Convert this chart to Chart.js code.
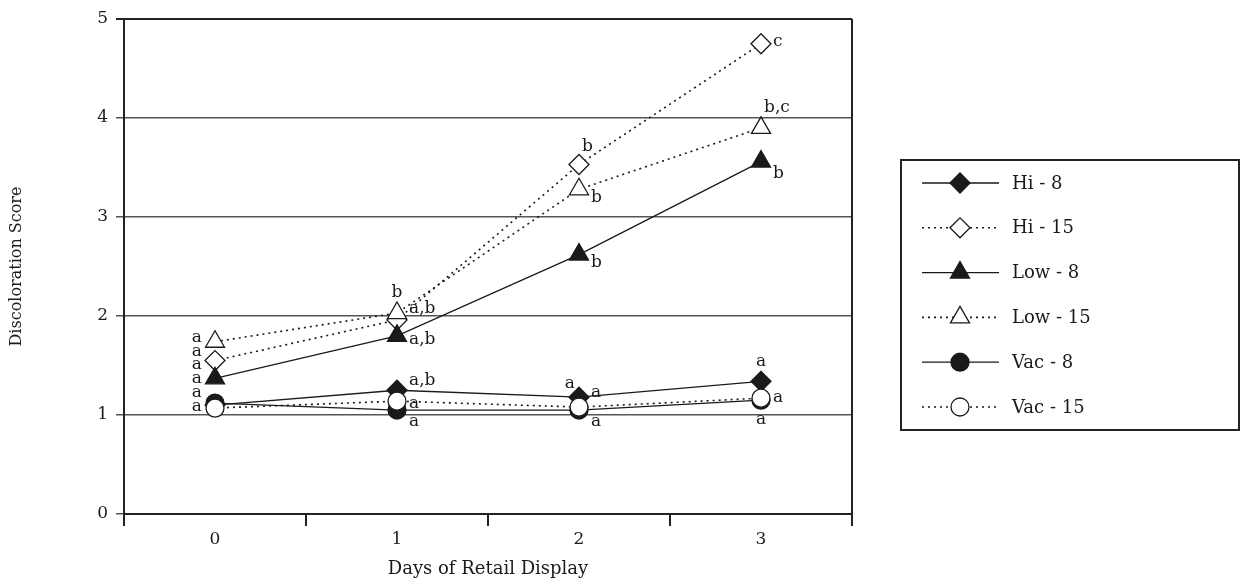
<!DOCTYPE html>
<html>
<head>
<meta charset="utf-8">
<script src="https://cdn.jsdelivr.net/npm/chart.js@4"></script>
<style>
  html, body { margin: 0; padding: 0; background: #fff; }
  #wrap { width: 1240px; height: 585px; }
</style>
</head>
<body>
<div id="wrap"><canvas id="disc-chart" width="1240" height="585"></canvas></div>
<script>
var days = ['0', '1', '2', '3'];
var seriesNames = ['Hi - 8', 'Hi - 15', 'Low - 8', 'Low - 15', 'Vac - 8', 'Vac - 15'];
var hi8 = [1.10, 1.25, 1.18, 1.34];
var hi15 = [1.55, 1.96, 3.53, 4.75];
var low8 = [1.37, 1.80, 2.62, 3.56];
var low15 = [1.74, 2.03, 3.28, 3.90];
var vac8 = [1.12, 1.05, 1.05, 1.15];
var vac15 = [1.07, 1.14, 1.08, 1.17];
var yTicks = [0, 1, 2, 3, 4, 5];

// significance letters: [day index, score where the letter sits, text, side]
var letterNotes = [
  [0, 1.78, 'a', 'L'], [0, 1.64, 'a', 'L'], [0, 1.51, 'a', 'L'],
  [0, 1.37, 'a', 'L'], [0, 1.23, 'a', 'L'], [0, 1.09, 'a', 'L'],
  [1, 2.24, 'b', 'C'], [1, 2.07, 'a,b', 'R'], [1, 1.76, 'a,b', 'R'],
  [1, 1.35, 'a,b', 'R'], [1, 1.12, 'a', 'R'], [1, 0.93, 'a', 'R'],
  [2, 3.71, 'b', 'NR'], [2, 3.20, 'b', 'R'], [2, 2.54, 'b', 'R'],
  [2, 1.32, 'a', 'NL'], [2, 1.23, 'a', 'R'], [2, 0.93, 'a', 'R'],
  [3, 4.77, 'c', 'R'], [3, 4.11, 'b,c', 'NR'], [3, 3.44, 'b', 'R'],
  [3, 1.54, 'a', 'C'], [3, 1.18, 'a', 'R'], [3, 0.95, 'a', 'C']
];

var serif = "'DejaVu Serif', 'Liberation Serif', serif";
var ink = '#1a1a1a';

function makeSet(i, values, style, filled, dotted, radius) {
  return {
    label: seriesNames[i],
    data: values,
    borderColor: ink,
    borderWidth: dotted ? 1.6 : 1.3,
    borderDash: dotted ? [2, 4] : [],
    pointStyle: style,
    pointRadius: radius,
    pointBorderWidth: 1.3,
    pointBorderColor: ink,
    pointBackgroundColor: filled ? ink : '#fff',
    fill: false,
    tension: 0,
    order: 5 - i
  };
}

var sets = [
  makeSet(0, hi8, 'rectRot', true, false, 10),
  makeSet(1, hi15, 'rectRot', false, true, 10),
  makeSet(2, low8, 'triangle', true, false, 11),
  makeSet(3, low15, 'triangle', false, true, 11),
  makeSet(4, vac8, 'circle', true, false, 9),
  makeSet(5, vac15, 'circle', false, true, 9)
];

var sidePlugin = {
  id: 'extras',
  afterDraw: function (chart) {
    var ctx = chart.ctx;
    var xs = chart.scales.x, ys = chart.scales.y;
    var area = chart.chartArea;
    ctx.save();
    // right frame edge
    ctx.strokeStyle = '#222';
    ctx.lineWidth = 2;
    ctx.beginPath();
    ctx.moveTo(area.right, area.top);
    ctx.lineTo(area.right, area.bottom);
    ctx.stroke();

    // letters
    ctx.fillStyle = ink;
    ctx.font = '17px ' + serif;
    ctx.textBaseline = 'middle';
    letterNotes.forEach(function (n) {
      var px = xs.getPixelForValue(n[0]);
      var py = ys.getPixelForValue(n[1]);
      var side = n[3];
      if (side === 'L') { ctx.textAlign = 'right'; px -= 13; }
      else if (side === 'NL') { ctx.textAlign = 'right'; px -= 4; }
      else if (side === 'R') { ctx.textAlign = 'left'; px += 12; }
      else if (side === 'NR') { ctx.textAlign = 'left'; px += 3; }
      else { ctx.textAlign = 'center'; }
      ctx.fillText(n[2], px, py);
    });

    // legend box
    var bx = 901, by = 160, bw = 338, bh = 270;
    ctx.strokeStyle = '#222';
    ctx.lineWidth = 2;
    ctx.strokeRect(bx, by, bw, bh);
    ctx.font = '18px ' + serif;
    ctx.textAlign = 'left';
    chart.data.datasets.forEach(function (ds, i) {
      var ry = 183 + i * 44.8;
      ctx.save();
      ctx.strokeStyle = ds.borderColor;
      ctx.lineWidth = ds.borderWidth;
      ctx.setLineDash(ds.borderDash);
      ctx.beginPath();
      ctx.moveTo(922, ry);
      ctx.lineTo(999, ry);
      ctx.stroke();
      ctx.restore();
      ctx.save();
      ctx.fillStyle = ds.pointBackgroundColor;
      ctx.strokeStyle = ds.pointBorderColor;
      ctx.lineWidth = ds.pointBorderWidth;
      Chart.helpers.drawPoint(ctx, {
        pointStyle: ds.pointStyle,
        radius: ds.pointRadius,
        rotation: 0,
        borderWidth: ds.pointBorderWidth
      }, 960, ry);
      ctx.restore();
      ctx.fillStyle = ink;
      ctx.fillText(ds.label, 1012, ry + 1);
    });
    ctx.restore();
  }
};

var discChart = new Chart(document.getElementById('disc-chart'), {
  type: 'line',
  data: {
    labels: days,
    datasets: sets
  },
  options: {
    responsive: false,
    animation: false,
    layout: { padding: { left: 0, top: 19, right: 388, bottom: 0 } },
    plugins: {
      legend: { display: false },
      tooltip: { enabled: false }
    },
    scales: {
      x: {
        type: 'category',
        offset: true,
        grid: {
          offset: true,
          drawOnChartArea: false,
          tickLength: 12,
          color: '#222',
          lineWidth: 2
        },
        border: { display: true, color: '#222', width: 2 },
        ticks: { color: ink, font: { family: serif, size: 17 }, padding: 3 },
        title: {
          display: true,
          text: 'Days of Retail Display',
          color: ink,
          font: { family: serif, size: 18 },
          padding: { top: 2, bottom: 5 }
        },
        afterFit: function (scale) { scale.height = 71; }
      },
      y: {
        min: 0,
        max: 5,
        afterBuildTicks: function (scale) {
          scale.ticks = yTicks.map(function (v) { return { value: v }; });
        },
        grid: {
          tickLength: 8,
          color: function (c) { return c.tick && c.tick.value === 5 ? '#222' : '#555'; },
          lineWidth: function (c) { return c.tick && c.tick.value === 5 ? 2 : 1.5; }
        },
        border: { display: true, color: '#222', width: 2 },
        ticks: { color: ink, font: { family: serif, size: 17 }, padding: 8 },
        title: {
          display: true,
          text: 'Discoloration Score',
          color: ink,
          font: { family: serif, size: 16 },
          padding: { top: 7, bottom: 4 }
        },
        afterFit: function (scale) { scale.width = 124; }
      }
    }
  },
  plugins: [sidePlugin]
});
</script>
</body>
</html>
